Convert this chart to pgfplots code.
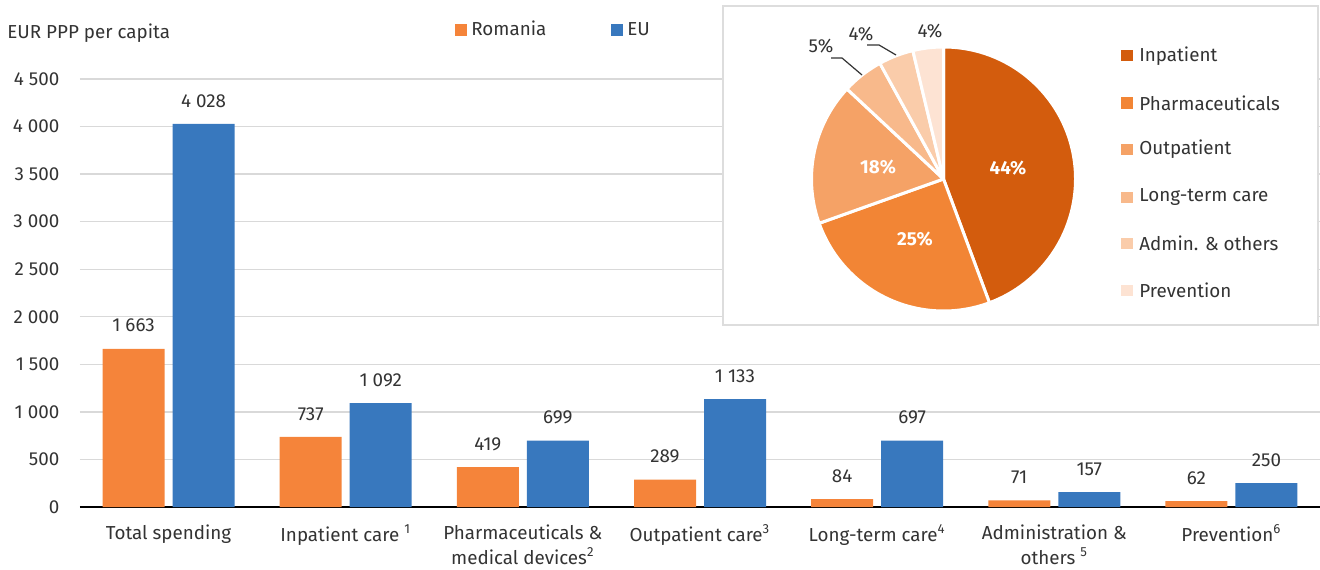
\documentclass[border=0pt]{standalone}
\usepackage{fontspec}
\setmainfont{Fira Sans}
\usepackage{pgfplots}
\pgfplotsset{compat=1.18}
\definecolor{ro}{HTML}{F5843A}
\definecolor{eu}{HTML}{3878BE}
\definecolor{cinp}{HTML}{D35C0D}
\definecolor{cpha}{HTML}{F28535}
\definecolor{cout}{HTML}{F5A266}
\definecolor{cltc}{HTML}{F8B98B}
\definecolor{cadm}{HTML}{FACCAA}
\definecolor{cpre}{HTML}{FDE3D3}
\definecolor{gridgray}{HTML}{D9D9D9}
\definecolor{boxgray}{HTML}{DDDDDD}
\definecolor{txt}{HTML}{333333}
\pgfplotsset{/pgf/number format/.cd,1000 sep={\ },assume math mode=true}
\newcommand{\fs}{\fontsize{9.4pt}{12.5pt}\selectfont}
\begin{document}
\fs
\begin{tikzpicture}
\path[use as bounding box] (-40pt,-31pt) rectangle (620pt,253.5pt);
\begin{axis}[
  at={(0pt,0pt)}, anchor=south west,
  scale only axis, width=620pt, height=214pt,
  xmin=-0.5, xmax=6.5, ymin=0, ymax=4500,
  ybar=4pt, bar width=31pt,
  xtick={0,...,6},
  xticklabels={Total spending,{Inpatient care \textsuperscript{1}},{Pharmaceuticals \&\\medical devices\textsuperscript{2}},{Outpatient care\textsuperscript{3}},{Long-term care\textsuperscript{4}},{Administration \&\\others \textsuperscript{5}},{Prevention\textsuperscript{6}}},
  ytick={0,500,...,4500},
  scaled y ticks=false,
  ymajorgrids, grid style={draw=gridgray, line width=0.7pt},
  axis x line*=bottom, axis y line*=left,
  y axis line style={draw=none},
  x axis line style={draw=black, line width=1pt},
  major tick length=0pt,
  tick label style={text=txt, font=\fs},
  xticklabel style={align=center, yshift=-5.6pt},
  yticklabel style={xshift=-7pt},
  nodes near coords,
  every node near coord/.append style={yshift=5pt, text=txt, font=\fs},
  legend columns=2,
  legend style={at={(0.3024,1.1145)}, anchor=west, draw=none, fill=none, inner sep=0pt,
    font=\fs, text=txt,
    /tikz/every even column/.append style={column sep=30.5pt}},
  clip=false,
]
\addplot[fill=ro, draw=none, legend image code/.code={\fill[ro] (0pt,-3pt) rectangle (6pt,3pt);}]
  coordinates {(0,1663) (1,737) (2,419) (3,289) (4,84) (5,71) (6,62)};
\addlegendentry{Romania}
\addplot[fill=eu, draw=none, legend image code/.code={\fill[eu] (0pt,-3pt) rectangle (6pt,3pt);}]
  coordinates {(0,4028) (1,1092) (2,699) (3,1133) (4,697) (5,157) (6,250)};
\addlegendentry{EU}
\node[anchor=base west, inner sep=0pt, text=txt] at (axis description cs:-0.0589,1.0958) {EUR PPP per capita};
\end{axis}
\begin{axis}[
  at={(321.5pt,91pt)}, anchor=south west,
  scale only axis, width=297.5pt, height=159.5pt,
  xmin=0, xmax=297.5, ymin=0, ymax=159.5,
  hide axis, clip=false,
]
\addplot[draw=none, forget plot] coordinates {(0,0)};
\draw[boxgray, fill=white, line width=0.8pt] (axis cs:0,0) rectangle (axis cs:297.5,159.5);
\pgfplotsextra{
  \xdef\cum{0}
  \foreach \v/\c in {737/cinp,419/cpha,289/cout,84/cltc,71/cadm,62/cpre} {
    \pgfmathsetmacro\a{90-\cum/1662*360}
    \pgfmathsetmacro\b{90-(\cum+\v)/1662*360}
    \fill[fill=\c, draw=white, line width=1.5pt, line join=round] (axis cs:110.25,73) -- ++(\a:66pt) arc[start angle=\a, end angle=\b, radius=66pt] -- cycle;
    \pgfmathsetmacro\nc{\cum+\v}
    \xdef\cum{\nc}
  }
}
\node[text=white, font=\bfseries] at (axis cs:142.5,78.5) {44\%};
\node[text=white, font=\bfseries] at (axis cs:96,43) {25\%};
\node[text=white, font=\bfseries] at (axis cs:77.5,79) {18\%};
\node[text=txt] at (axis cs:49,139.5) {5\%};
\node[text=txt] at (axis cs:69,145.5) {4\%};
\node[text=txt] at (axis cs:103.5,147) {4\%};
\draw[txt, line width=0.6pt] (axis cs:54,133.5) -- (axis cs:59.5,133.5) -- (axis cs:69.5,125);
\draw[txt, line width=0.6pt] (axis cs:72,140) -- (axis cs:78,140) -- (axis cs:86.5,135);
\fill[cinp] (axis cs:199,131.75) rectangle (axis cs:205,137.25);
\fill[cpha] (axis cs:199,108.25) rectangle (axis cs:205,113.75);
\fill[cout] (axis cs:199,85.25) rectangle (axis cs:205,90.75);
\fill[cltc] (axis cs:199,61.25) rectangle (axis cs:205,66.75);
\fill[cadm] (axis cs:199,38.25) rectangle (axis cs:205,43.75);
\fill[cpre] (axis cs:199,14.75) rectangle (axis cs:205,20.25);
\node[anchor=west, inner sep=0pt, text=txt] at (axis cs:208,134.5) {Inpatient};
\node[anchor=west, inner sep=0pt, text=txt] at (axis cs:208,111) {Pharmaceuticals};
\node[anchor=west, inner sep=0pt, text=txt] at (axis cs:208,88) {Outpatient};
\node[anchor=west, inner sep=0pt, text=txt] at (axis cs:208,64) {Long-term care};
\node[anchor=west, inner sep=0pt, text=txt] at (axis cs:208,41) {Admin. \& others};
\node[anchor=west, inner sep=0pt, text=txt] at (axis cs:208,17.5) {Prevention};
\end{axis}
\end{tikzpicture}
\end{document}
